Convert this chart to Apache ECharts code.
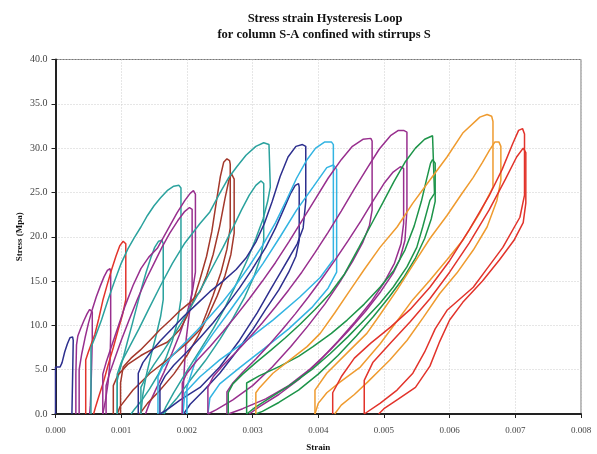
<!DOCTYPE html>
<html>
<head>
<meta charset="UTF-8">
<title>Stress strain Hysteresis Loop</title>
<script src="https://cdn.jsdelivr.net/npm/echarts@6/dist/echarts.min.js"></script>
<style>
    body { margin: 0; background: #fff; }
    #chart { width: 597px; height: 454px; }
</style>
</head>
<body>
<div id="chart"></div>
<script>
// [strain, stress (MPa)] traced loop by loop, reload branch then unload branch
var navyA = [[0,0],[0,5.3],[0.00007,5.3],[0.0001,5.8],[0.00014,7.0],[0.00018,7.9],[0.00022,8.6],[0.00026,8.7],[0.00027,8.3],[0.00026,4.0],[0.00025,0]];
var purpleB = [[0.00031,0],[0.00031,4.5],[0.00032,7.8],[0.00034,8.8],[0.00038,9.6],[0.00043,10.5],[0.00048,11.3],[0.00052,11.8],[0.00055,11.9],[0.00056,11.5],[0.00056,8.5],[0.00055,5.5],[0.00054,2.8],[0.00053,1.0],[0.00052,0]];
var purpleC = [[0.00036,0],[0.00036,5.0],[0.0004,6.8],[0.00045,8.6],[0.0005,10.2],[0.00056,11.8],[0.00062,13.2],[0.00068,14.4],[0.00074,15.5],[0.00079,16.2],[0.00083,16.4],[0.00084,16.0],[0.00084,9.0],[0.00083,6.0],[0.0008,3.5],[0.00076,1.5],[0.00072,0]];
var redD = [[0.00046,0],[0.00046,6.1],[0.0005,7.0],[0.00055,8.0],[0.0006,9.0],[0.00066,10.8],[0.00072,12.8],[0.00078,14.4],[0.00085,16.2],[0.00092,17.8],[0.00098,19.0],[0.00103,19.5],[0.00106,19.6],[0.00107,19.2],[0.00107,12.9],[0.00102,11.2],[0.00095,9.4],[0.00088,7.5],[0.0008,5.5],[0.00073,3.6],[0.00066,2.0],[0.00061,0.8],[0.00058,0]];
var tealF = [[0.00054,0],[0.00054,7.5],[0.0006,8.6],[0.0007,10.6],[0.0008,12.9],[0.0009,15.0],[0.001,17.0],[0.0011,18.6],[0.0012,19.9],[0.0013,21.1],[0.0014,22.4],[0.0015,23.5],[0.0016,24.4],[0.0017,25.2],[0.0018,25.7],[0.00188,25.8],[0.00191,25.5],[0.00191,13.0],[0.00186,10.5],[0.00178,8.3],[0.00168,6.3],[0.00156,4.4],[0.00143,2.8],[0.0013,1.4],[0.0012,0.5],[0.00115,0]];
var tealE = [[0.00094,0],[0.00094,3.8],[0.00098,5.0],[0.00104,6.6],[0.0011,8.3],[0.00117,10.2],[0.00124,12.2],[0.00131,14.2],[0.00138,16.0],[0.00145,17.6],[0.00151,18.8],[0.00157,19.5],[0.00162,19.6],[0.00164,19.2],[0.00164,12.9],[0.0016,11.0],[0.00153,8.8],[0.00145,6.5],[0.00138,4.3],[0.00133,2.2],[0.0013,0]];
var purpleG = [[0.00072,0],[0.00072,4.5],[0.00077,5.8],[0.00085,7.6],[0.00095,9.8],[0.00106,12.2],[0.00118,14.5],[0.0013,16.4],[0.00142,17.7],[0.00155,18.7],[0.0017,20.7],[0.00185,22.7],[0.00197,24.1],[0.00205,24.9],[0.0021,25.2],[0.00213,24.8],[0.00213,16.0],[0.00208,13.6],[0.002,11.3],[0.00189,9.0],[0.00177,6.8],[0.00165,4.7],[0.00153,2.8],[0.00143,1.2],[0.00137,0]];
var purpleH = [[0.00077,0],[0.00077,3.2],[0.00082,4.5],[0.0009,6.2],[0.001,8.3],[0.00112,10.6],[0.00125,13.0],[0.00138,15.2],[0.0015,17.0],[0.00162,18.8],[0.00174,20.4],[0.00186,21.8],[0.00196,22.8],[0.00204,23.3],[0.00208,23.1],[0.00208,14.0],[0.00204,11.5],[0.00199,8.5],[0.00196,5.0],[0.00194,2.0],[0.00193,0]];
var brownI = [[0.00088,0],[0.00088,3.2],[0.00095,4.4],[0.0011,5.6],[0.0013,6.6],[0.0015,7.4],[0.0017,8.1],[0.0018,8.8],[0.0019,9.6],[0.002,11.0],[0.0021,12.8],[0.0022,15.2],[0.0023,17.8],[0.00238,20.6],[0.00245,24.0],[0.00251,26.8],[0.00256,28.4],[0.00261,28.8],[0.00265,28.6],[0.00266,28.2],[0.00266,21.0],[0.00261,18.6],[0.00252,16.0],[0.0024,13.4],[0.0023,11.4],[0.0022,9.5],[0.002,8.0],[0.0017,6.1],[0.00144,4.6],[0.00118,2.7],[0.00098,0.8],[0.00094,0]];
var brownJ = [[0.00099,0],[0.00099,3.5],[0.00103,5.3],[0.00115,6.3],[0.00129,7.2],[0.00145,8.4],[0.00159,9.5],[0.00175,10.6],[0.0019,11.7],[0.00205,12.6],[0.0022,13.8],[0.0023,15.6],[0.0024,18.0],[0.0025,21.2],[0.00258,24.3],[0.00264,26.4],[0.00268,27.1],[0.00271,26.9],[0.00272,26.5],[0.00272,20.4],[0.00267,18.0],[0.00258,15.6],[0.00246,13.3],[0.00232,11.0],[0.00217,8.8],[0.002,6.6],[0.0018,4.5],[0.00158,2.6],[0.0014,1.2],[0.00128,0]];
var tealK = [[0.00094,0],[0.00094,4.5],[0.001,5.8],[0.00112,7.5],[0.00127,9.6],[0.00143,12.0],[0.0016,14.5],[0.00178,17.0],[0.00197,19.3],[0.0022,21.5],[0.00235,22.8],[0.0025,24.9],[0.00263,26.6],[0.00276,27.9],[0.0029,29.2],[0.00305,30.2],[0.00317,30.6],[0.00325,30.4],[0.00327,30.2],[0.00327,25.6],[0.00323,24.0],[0.00316,22.0],[0.00305,19.8],[0.00292,17.4],[0.00276,14.8],[0.00258,12.0],[0.0024,9.6],[0.0022,7.2],[0.00198,4.6],[0.0018,2.4],[0.00168,0.8],[0.00163,0]];
var tealL = [[0.0013,0],[0.0013,3.0],[0.00138,4.2],[0.0015,5.6],[0.00165,7.2],[0.0018,8.9],[0.00195,10.7],[0.0021,12.6],[0.00225,14.6],[0.0024,16.7],[0.00255,18.8],[0.0027,21.0],[0.00283,23.0],[0.00295,24.7],[0.00305,25.8],[0.00313,26.3],[0.00317,26.0],[0.00317,19.6],[0.00312,17.6],[0.00302,15.5],[0.00288,13.2],[0.0027,10.8],[0.0025,8.4],[0.00228,6.0],[0.00205,3.8],[0.00185,1.8],[0.0017,0.5],[0.00165,0]];
var navyM = [[0.00126,0],[0.00126,4.6],[0.00133,5.8],[0.00145,7.0],[0.0016,8.3],[0.00177,9.6],[0.00195,11.0],[0.00215,12.4],[0.00235,13.8],[0.00255,15.0],[0.00275,16.3],[0.0029,17.6],[0.00305,19.4],[0.00318,21.5],[0.0033,24.0],[0.00342,26.8],[0.00354,29.0],[0.00366,30.2],[0.00376,30.4],[0.00381,30.2],[0.00381,24.0],[0.00377,21.0],[0.00368,19.2],[0.00357,17.8],[0.00342,15.9],[0.00327,14.0],[0.00307,11.4],[0.0028,8.3],[0.0025,5.3],[0.0022,3.0],[0.0019,1.6],[0.00172,0.6],[0.00159,0]];
var navyN = [[0.00159,0],[0.00159,3.2],[0.00167,4.3],[0.0018,5.5],[0.002,7.0],[0.0022,8.6],[0.0024,10.3],[0.0026,12.2],[0.0028,14.2],[0.003,16.4],[0.0032,18.8],[0.00335,21.0],[0.00348,23.2],[0.00358,24.9],[0.00365,25.8],[0.0037,26.0],[0.00371,25.6],[0.00371,19.6],[0.00366,17.8],[0.00355,16.0],[0.0034,14.0],[0.0032,11.8],[0.003,9.5],[0.00275,7.0],[0.0025,4.6],[0.00225,2.6],[0.00205,1.1],[0.00195,0]];
var cyanO = [[0.00156,0],[0.00156,4.2],[0.00163,5.3],[0.00178,6.6],[0.00195,7.9],[0.00215,9.4],[0.00235,11.0],[0.00255,12.7],[0.00275,14.6],[0.00295,16.7],[0.00315,19.0],[0.00335,21.6],[0.00352,24.2],[0.00367,26.6],[0.00382,28.6],[0.00396,30.0],[0.0041,30.7],[0.0042,30.7],[0.00423,30.4],[0.00423,17.4],[0.00403,15.4],[0.00372,13.2],[0.00331,10.6],[0.00291,8.3],[0.0025,6.1],[0.0022,4.2],[0.00197,2.4],[0.00194,0]];
var cyanP = [[0.002,0],[0.002,3.0],[0.00207,4.6],[0.00215,6.4],[0.0024,9.1],[0.00266,11.7],[0.00291,14.3],[0.00316,17.0],[0.00342,20.0],[0.00367,23.0],[0.00392,25.6],[0.00413,27.8],[0.00423,28.1],[0.00428,27.6],[0.00428,16.0],[0.00415,14.2],[0.0039,12.0],[0.00355,9.6],[0.00318,7.4],[0.0028,5.2],[0.0025,3.4],[0.00235,1.8],[0.00232,0]];
var purpleQ = [[0.00193,0],[0.00193,3.5],[0.002,4.6],[0.00215,6.0],[0.00235,7.6],[0.00255,9.3],[0.00275,11.1],[0.00295,13.0],[0.00315,15.0],[0.00335,17.1],[0.00355,19.4],[0.00375,21.8],[0.00395,24.2],[0.00415,26.6],[0.00435,28.7],[0.00452,30.2],[0.00468,31.0],[0.0048,31.1],[0.00482,30.8],[0.00482,23.0],[0.00478,21.3],[0.00468,19.4],[0.00452,17.2],[0.00432,14.8],[0.0041,12.4],[0.00385,10.0],[0.00358,7.6],[0.0033,5.3],[0.003,3.2],[0.0027,1.6],[0.00245,0.5],[0.00232,0]];
var purpleR = [[0.00232,0],[0.00232,3.0],[0.0024,4.2],[0.00255,5.5],[0.00275,7.0],[0.00295,8.6],[0.00315,10.3],[0.00335,12.1],[0.00355,14.0],[0.00375,16.0],[0.00395,18.2],[0.00415,20.5],[0.00435,22.9],[0.00455,25.4],[0.00475,27.8],[0.00493,29.9],[0.0051,31.4],[0.00522,32.0],[0.0053,32.0],[0.00535,31.8],[0.00535,23.0],[0.00532,19.6],[0.00524,17.4],[0.00514,15.9],[0.00495,13.8],[0.00472,11.6],[0.00446,9.4],[0.00418,7.2],[0.00388,5.1],[0.00355,3.2],[0.0032,1.7],[0.00285,0.6],[0.00263,0]];
var purpleS = [[0.00261,0],[0.00261,2.5],[0.0027,3.5],[0.00285,4.7],[0.00305,6.2],[0.00325,7.8],[0.00345,9.5],[0.00365,11.3],[0.00385,13.2],[0.00405,15.2],[0.00425,17.3],[0.00445,19.5],[0.00465,21.8],[0.00483,24.0],[0.005,26.0],[0.00514,27.3],[0.00525,27.9],[0.0053,27.7],[0.0053,21.5],[0.00526,19.2],[0.00516,17.0],[0.005,14.8],[0.0048,12.6],[0.00456,10.4],[0.0043,8.2],[0.00402,6.0],[0.00372,4.0],[0.0034,2.2],[0.0031,0.8],[0.00295,0]];
var greenT = [[0.00263,0],[0.00263,2.4],[0.0027,3.4],[0.00285,4.5],[0.00305,5.8],[0.00328,7.2],[0.0035,8.6],[0.00372,10.1],[0.00395,11.8],[0.00418,13.6],[0.0044,15.8],[0.00462,18.8],[0.0048,21.3],[0.00498,23.8],[0.00515,26.2],[0.00532,28.4],[0.00548,30.0],[0.00562,31.0],[0.00574,31.4],[0.00577,31.2],[0.00577,24.9],[0.0057,24.1],[0.00559,21.1],[0.0055,18.8],[0.00535,16.6],[0.00514,14.3],[0.00494,12.5],[0.0047,10.6],[0.00445,8.7],[0.00418,6.8],[0.0039,5.0],[0.0036,3.4],[0.0033,2.0],[0.00305,0.8],[0.00291,0]];
var greenU = [[0.00291,0],[0.00291,3.5],[0.0031,4.3],[0.00342,5.4],[0.0037,6.5],[0.00392,7.6],[0.0042,9.1],[0.00444,10.6],[0.0047,12.4],[0.00494,14.3],[0.00515,16.2],[0.00532,18.5],[0.00546,21.2],[0.00557,24.0],[0.00565,26.5],[0.00571,28.3],[0.00574,28.7],[0.00578,28.3],[0.00578,24.0],[0.00572,22.0],[0.00562,19.8],[0.00548,17.6],[0.0053,15.4],[0.00508,13.2],[0.00484,11.0],[0.00458,8.8],[0.0043,6.6],[0.004,4.5],[0.0037,2.7],[0.0034,1.3],[0.00315,0.3],[0.00305,0]];
var orangeV = [[0.00305,0],[0.00305,2.4],[0.00311,3.0],[0.00331,4.6],[0.00357,6.1],[0.00383,7.6],[0.00403,9.1],[0.00425,11.4],[0.00447,13.8],[0.0047,16.3],[0.00494,18.8],[0.0052,21.1],[0.00544,23.8],[0.0057,26.4],[0.00596,29.0],[0.0062,31.7],[0.00646,33.5],[0.00657,33.8],[0.00664,33.6],[0.00666,33.0],[0.00666,25.6],[0.00664,25.3],[0.00646,22.7],[0.0062,19.6],[0.00596,17.4],[0.0057,15.1],[0.00544,12.9],[0.0052,10.5],[0.00494,7.9],[0.00464,5.3],[0.00433,3.6],[0.00413,2.4],[0.004,1.2],[0.00395,0]];
var orangeW = [[0.00395,0],[0.00395,2.7],[0.00413,4.6],[0.00444,6.9],[0.00474,9.1],[0.00494,11.2],[0.0052,14.0],[0.00544,16.8],[0.0057,19.8],[0.00596,22.4],[0.00618,24.8],[0.00636,26.7],[0.0065,28.4],[0.00661,29.8],[0.00669,30.7],[0.00675,30.7],[0.00678,30.2],[0.00678,26.4],[0.00672,24.1],[0.00657,21.1],[0.00636,18.5],[0.00611,15.9],[0.00585,13.6],[0.0056,10.9],[0.00535,8.3],[0.00509,6.1],[0.00494,5.0],[0.00475,3.6],[0.00455,2.2],[0.00435,1.0],[0.00425,0]];
var redX = [[0.00422,0],[0.00422,2.4],[0.00435,4.2],[0.00455,6.3],[0.0048,8.0],[0.0051,9.8],[0.0054,11.8],[0.0057,14.3],[0.006,17.3],[0.0063,20.8],[0.0066,24.6],[0.0068,27.6],[0.00696,30.5],[0.00705,32.0],[0.00711,32.2],[0.00714,31.6],[0.00714,24.7],[0.00707,22.2],[0.00681,18.8],[0.00655,16.2],[0.00636,14.3],[0.00596,11.7],[0.00578,9.6],[0.00562,7.0],[0.00544,4.6],[0.0052,2.7],[0.00494,1.2],[0.0047,0]];
var redY = [[0.0047,0],[0.0047,3.8],[0.00483,5.8],[0.0051,8.0],[0.0054,10.4],[0.0057,13.0],[0.006,16.0],[0.0063,19.3],[0.0066,23.0],[0.00685,26.5],[0.00702,29.0],[0.00712,30.0],[0.00716,29.5],[0.00716,23.8],[0.00712,21.6],[0.00698,19.6],[0.00676,17.4],[0.0065,15.0],[0.0062,12.6],[0.006,10.6],[0.00585,8.2],[0.0057,5.4],[0.00548,3.0],[0.0052,1.6],[0.005,0.6],[0.00492,0]];

var xTicks = [0, 0.001, 0.002, 0.003, 0.004, 0.005, 0.006, 0.007, 0.008];
var yTicks = [0, 5, 10, 15, 20, 25, 30, 35, 40];

var NAVY = '#2d2f8e', PURPLE = '#982f8e', RED = '#e2332b', TEAL = '#2ba29e',
    BROWN = '#a3382b', CYAN = '#32b4e2', GREEN = '#1d9449', ORANGE = '#ef9b2f';

var loops = [
    [navyA, NAVY], [purpleB, PURPLE], [purpleC, PURPLE], [redD, RED],
    [tealF, TEAL], [tealE, TEAL], [purpleG, PURPLE], [purpleH, PURPLE],
    [brownI, BROWN], [brownJ, BROWN], [tealK, TEAL], [tealL, TEAL],
    [navyM, NAVY], [navyN, NAVY], [cyanO, CYAN], [cyanP, CYAN],
    [purpleQ, PURPLE], [purpleR, PURPLE], [purpleS, PURPLE],
    [greenT, GREEN], [greenU, GREEN], [orangeV, ORANGE], [orangeW, ORANGE],
    [redX, RED], [redY, RED]
];

var serif = '"Liberation Serif", "DejaVu Serif", serif';
var titleStyle = { fontFamily: serif, fontSize: 12.5, fontWeight: 'bold', color: '#111' };

var chart = echarts.init(document.getElementById('chart'));
chart.setOption({
    animation: false,
    backgroundColor: '#fff',
    title: [
        { text: 'Stress strain Hysteresis Loop', left: 320, top: 7, textAlign: 'center', textStyle: titleStyle },
        { text: 'for column S-A confined with stirrups S', left: 319, top: 23, textAlign: 'center', textStyle: titleStyle }
    ],
    grid: {
        left: 55.5, right: 16, top: 59.5, bottom: 40,
        outerBoundsMode: 'none',
        show: true, borderColor: '#777', borderWidth: 1
    },
    xAxis: {
        type: 'value',
        min: xTicks[0], max: xTicks[xTicks.length - 1], interval: 0.001,
        name: 'Strain', nameLocation: 'middle', nameGap: 29,
        nameTextStyle: { fontFamily: serif, fontSize: 9, fontWeight: 'bold', color: '#111' },
        axisLine: { lineStyle: { color: '#222', width: 2 } },
        axisTick: { show: true, length: 4, lineStyle: { color: '#222' } },
        axisLabel: { fontFamily: serif, fontSize: 9, color: '#444', margin: 12,
            formatter: function (v) { return v.toFixed(3); } },
        splitLine: { show: true, lineStyle: { color: '#cdcdcd', type: [1, 2], width: 1 } }
    },
    yAxis: {
        type: 'value',
        min: yTicks[0], max: yTicks[yTicks.length - 1], interval: 5,
        name: 'Stress (Mpa)', nameLocation: 'middle', nameGap: 31, nameRotate: 90,
        nameMoveOverlap: false,
        nameTextStyle: { fontFamily: serif, fontSize: 9, fontWeight: 'bold', color: '#111' },
        axisLine: { lineStyle: { color: '#222', width: 2 } },
        axisTick: { show: true, length: 4, lineStyle: { color: '#222' } },
        axisLabel: { fontFamily: serif, fontSize: 10, color: '#444', margin: 8,
            formatter: function (v) { return v.toFixed(1); } },
        splitLine: { show: true, lineStyle: { color: '#cdcdcd', type: [1, 2], width: 1 } }
    },
    series: loops.map(function (l) {
        return {
            type: 'line',
            data: l[0],
            showSymbol: false,
            symbol: 'none',
            lineStyle: { color: l[1], width: 1.5 },
            itemStyle: { color: l[1] },
            clip: true
        };
    })
});
</script>
</body>
</html>
